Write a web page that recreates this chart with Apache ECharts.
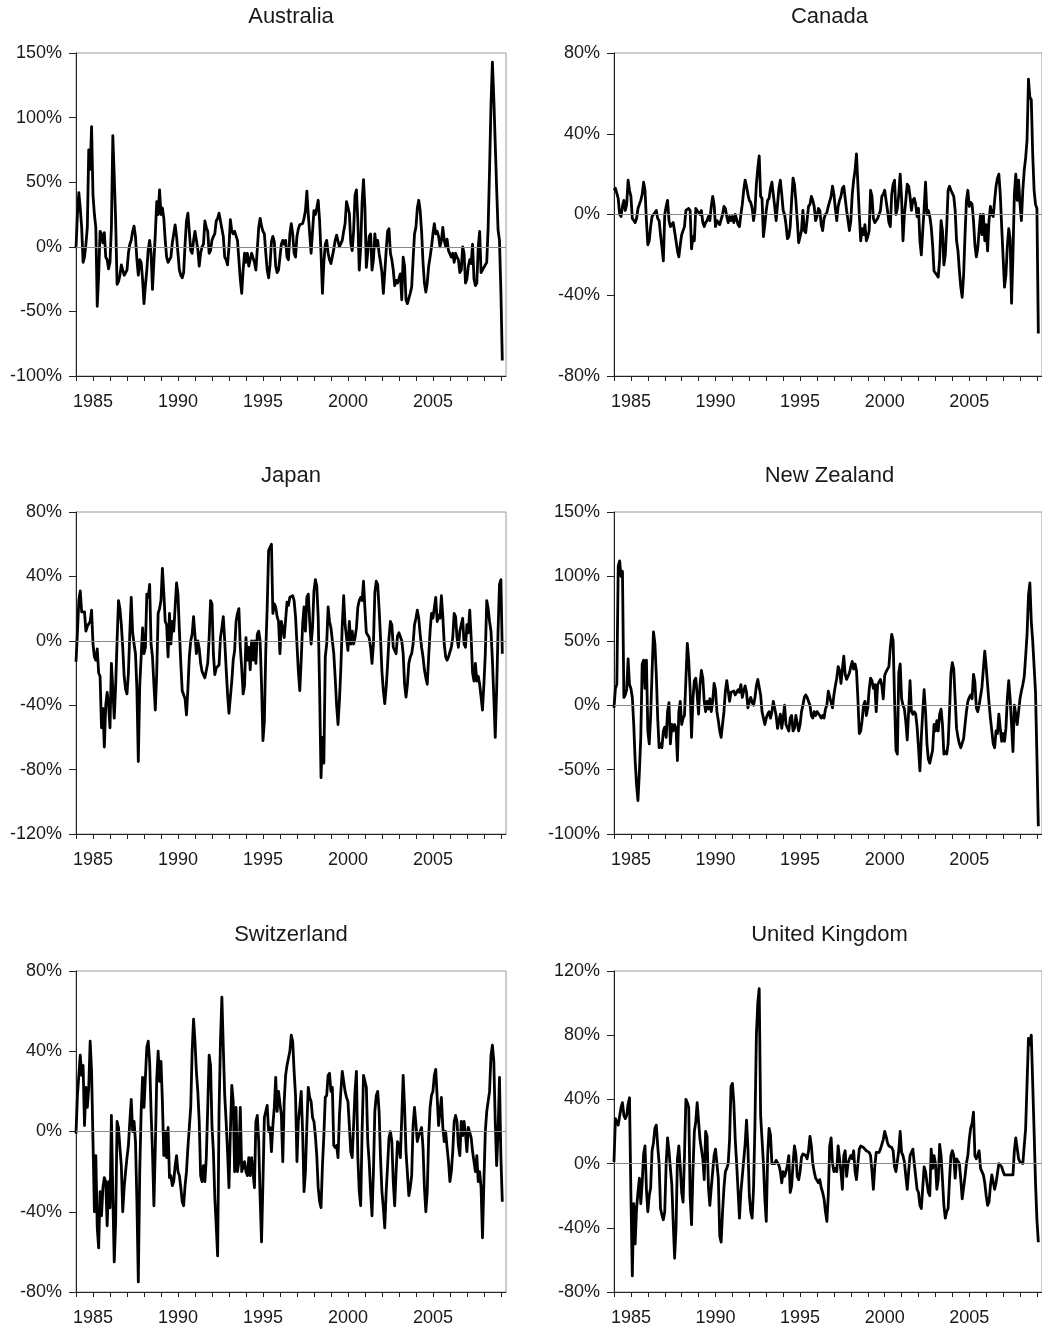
<!DOCTYPE html>
<html>
<head>
<meta charset="utf-8">
<script src="https://cdn.jsdelivr.net/npm/echarts@6.0.0/dist/echarts.min.js"></script>
<style>
  html, body { margin: 0; padding: 0; background: #fff; }
  #chart { width: 1042px; height: 1330px; }
</style>
</head>
<body>
<div id="chart"></div>
<script>
// ---------------- DATA (monthly, starting January 1984) ----------------
const startYear = 1984;
const countries = ['Australia', 'Canada', 'Japan', 'New Zealand', 'Switzerland', 'United Kingdom'];

const australia = [
  -1, 25, 42, 30, 15, -12, -8, 2, 15, 75, 60, 93,
  40, 25, 15, -46, -22, 12, 10, 3, 11, -8, -10, -17,
  -12, 15, 86, 55, 20, -29, -27, -22, -14, -18, -22, -22,
  -18, -5, 2, 5, 12, 16, 8, -10, -22, -10, -12, -25,
  -44, -30, -18, -2, 5, -5, -33, -32, 10, 35, 25, 44,
  25, 30, 22, 5, -8, -12, -13, -8, 3, 10, 17, 8,
  -5, -18, -22, -24, -20, 2, 20, 26, 12, -3, -5, 5,
  12, 5, -2, -15, -5, 0, 2, 20, 15, 12, -5, -3,
  5, 8, 10, 20, 22, 26, 20, 14, 8, -8, -10, -14,
  0, 21, 12, 10, 12, 12, 5, -10, -25, -36, -18, -5,
  -12, -5, -15, -10, -5, -4, -12, -18, -2, 15, 22, 16,
  12, 10, -5, -18, -24, -14, 4, 8, 4, -15, -20, -18,
  -8, 2, 5, 2, 5, -8, -10, 10, 18, 10, -5, -8,
  8, 14, 17, 18, 18, 22, 28, 43, 25, 10, -5, 12,
  28, 25, 30, 36, 20, -5, -36, -12, 2, 5, -5, -10,
  -13, -12, -2, 5, 9, 8, 0, -1, 5, 12, 18, 35,
  36, 26, 3, -3, 12, 40, 44, 20, -18, 0, 35, 52,
  30, -16, -17, 8, 10, -18, -10, 10, 0, 5, -5, -12,
  -20, -36, -20, -3, 12, 14, -5, -10, -18, -30, -26, -28,
  -28, -21, -41, -8, -15, -41, -44, -40, -36, -31, -10, 10,
  15, 30, 36, 28, 12, -12, -28, -35, -28, -15, -8, 0,
  10, 18, 10, 12, 8, 0, 5, 15, 5, 0, 6, -3,
  -2, -8, -5, -12, -5, -8, -10, -20, -18, 0, -5, -28,
  -25, -15, -10, -13, 2, -25, -30, -28, 0, 12, -20, -18,
  -17, -14, -12, 15, 60, 110, 143, 115, 80, 45, 13, 5,
  -35, -88
];

const canada = [
  12, 13, 13, 8, 0, -1, 4, 7, 2, 5, 17, 12,
  9, -2, -3, -4, -2, 3, 5, 7, 10, 16, 12, -3,
  -15, -13, -6, -1, 0, 1, 2, -2, -3, -10, -16, -23,
  0, 4, 7, -3, -6, -6, -4, -4, -13, -18, -21, -15,
  -10, -8, -6, 2, 2, 3, 2, -17, -11, -13, 3, 3,
  1, 0, 2, -4, -6, -4, -3, -1, -3, 4, 9, 5,
  -6, -3, -4, -5, -5, 0, 4, 3, -1, -4, -1, -3,
  -1, -4, 0, 0, -5, -6, 0, 5, 12, 17, 14, 10,
  7, 6, 3, -3, 2, 15, 23, 29, 9, 8, -11, -5,
  2, 7, 8, 13, 16, 10, 4, -3, 5, 13, 17, 10,
  2, 0, -5, -12, -11, -6, 7, 18, 15, 7, -3, -14,
  -11, -8, 2, -8, -9, -9, 4, 5, 9, 7, 4, -3,
  -1, 3, 2, -5, -8, -2, 0, 1, 4, 4, 9, 14,
  10, 3, -3, 4, 7, 9, 13, 14, 8, 2, -3, -8,
  -3, 10, 17, 22, 30, 15, 0, -13, -7, -10, -5, -13,
  -11, -8, 12, 9, -2, -4, -3, -2, 0, 2, 9, 10,
  12, 7, 2, -4, -6, 10, 15, 17, 0, 3, 10, 20,
  8, -13, 0, 7, 15, 14, 9, 2, 7, 8, 5, -1,
  3, -13, -20, -8, 3, 16, 0, 2, -1, -6, -15, -28,
  -28, -30, -31, -22, -3, -8, -25, -20, -6, 12, 14, 12,
  12, 9, 2, -13, -18, -28, -36, -41, -30, -10, 7, 12,
  4, 6, 5, -3, -15, -21, -17, -8, 0, -10, 0, -13,
  -5, -18, -3, 4, 0, -1, 7, 14, 18, 20, 10, -6,
  -21, -36, -30, -16, -7, -12, -44, -20, 10, 20, 7, 17,
  5, -3, 12, 22, 28, 37, 67, 58, 57, 30, 12, 5,
  3, -59
];

const japan = [
  -13, 5, 25, 31, 18, 17, 18, 6, 9, 9, 12, 19,
  -2, -10, -12, -5, -20, -22, -54, -42, -66, -40, -32, -40,
  -54, -14, -30, -48, -28, 0, 25, 20, 10, -4, -22, -30,
  -33, -20, 5, 27, 5, -2, -8, -30, -75, -28, -10, 8,
  -8, -4, 29, 27, 35, -2, -10, -27, -43, -20, 17, 20,
  25, 45, 30, 12, 10, -10, 17, -2, 12, 6, 21, 36,
  29, 6, -14, -31, -30, -36, -46, -30, -10, 0, 4, 15,
  15, -8, 0, -5, -14, -19, -21, -23, -22, -14, 2, 25,
  23, -8, -21, -17, -18, -15, 2, 8, 15, 0, -17, -33,
  -45, -35, -25, -12, -6, 12, 17, 20, -4, -17, -33, -28,
  2, -12, -4, -18, 0, -12, 0, -14, 4, 6, 0, -27,
  -62, -50, -6, 21, 56, 58, 60, 17, 23, 21, 15, 12,
  -8, 12, 8, 2, 3, 24, 22, 27, 27, 28, 25, 15,
  -2, -19, -31, -12, 10, 21, 6, 27, 29, 12, -2, 8,
  31, 38, 34, 15, -30, -85, -60, -76, -10, -2, 21, 12,
  8, 8, -8, -23, -40, -52, -37, -17, 10, 28, 10, 2,
  -6, 12, -2, 6, -2, 2, 8, 21, 25, 27, 25, 37,
  20, 5, 4, 2, -4, -14, -2, 30, 37, 35, 20, 2,
  -19, -31, -39, -29, -15, 2, 12, 10, -4, -4, -8, 3,
  5, 4, 0, -8, -27, -35, -27, -14, -10, -8, -2, 10,
  14, 19, 14, 4, -4, -10, -18, -23, -27, -10, 6, 17,
  14, 14, 27, 12, 16, 14, 28, 15, -2, -10, -12, -10,
  -10, -4, 2, 17, 15, 2, -4, 6, 10, 14, -2, -4,
  10, 5, 19, 2, -20, -25, -14, -25, -22, -27, -35, -43,
  -27, -8, 25, 20, 12, 6, -12, -35, -60, -30, 6, 35,
  38, -8
];

const newZealand = [
  -2, 13, 16, 108, 112, 100, 104, 6, 8, 12, 36, 16,
  13, 6, -15, -43, -62, -74, -52, -25, 32, 35, 13, 35,
  -20, -30, -8, 25, 57, 48, 24, -10, -33, -30, -33, -20,
  -17, -25, -5, 2, -30, -15, -20, -15, -18, -43, -5, 3,
  -15, -10, -8, 20, 48, 35, 12, -25, 5, 19, 21, 8,
  -7, 16, 27, 21, 3, -5, 3, -3, 5, -5, 3, 17,
  12, -5, -12, -20, -25, -15, -5, 11, 19, 11, 3, 10,
  11, 11, 8, 9, 12, 10, 16, 6, 11, 15, 10, -2,
  3, 6, 2, 0, 6, 15, 20, 14, 8, -5, -10, -15,
  -10, -7, -5, -10, -5, 3, 3, -8, -18, -12, -7, -18,
  -10, 0, -15, -15, -20, -10, -8, -20, -18, -8, -7, -20,
  -15, -5, 0, 6, 8, 6, 5, 0, -8, -10, -5, -8,
  -5, -5, -8, -10, -8, -10, -3, 0, 11, 11, 2, -2,
  8, 15, 21, 30, 27, 17, 28, 38, 24, 20, 21, 25,
  30, 34, 28, 32, 27, 5, -22, -20, -12, 0, 3, -8,
  -2, 12, 21, 19, 13, 16, -5, 16, 16, 20, 15, 5,
  23, 26, 28, 30, 45, 55, 50, 5, -35, -38, 25, 32,
  5, 0, -3, -13, -27, -5, 19, -5, -7, -5, -7, -17,
  -33, -51, -25, -5, 12, -5, -30, -42, -45, -45, -35, -15,
  -20, -12, -20, -7, -3, -15, -38, -36, -38, -30, -5, 25,
  33, 28, 5, -18, -25, -30, -33, -33, -26, -15, -5, 3,
  6, 8, 5, 24, 18, -2, -5, 0, 7, 14, 28, 42,
  30, 16, 2, -10, -20, -30, -33, -20, -22, -7, -18, -28,
  -22, -28, -18, 5, 19, 5, -15, -36, 0, -7, -15, -5,
  5, 11, 16, 22, 38, 55, 85, 95, 65, 50, 30, 10,
  -40, -94
];

const switzerland = [
  -1, 18, 28, 38, 28, 33, 3, 22, 12, 22, 45, 30,
  -5, -40, -12, -48, -58, -30, -42, -28, -23, -25, -47, -25,
  -38, 8, -32, -65, -45, 5, 2, -8, -17, -40, -28, -20,
  -13, -7, 5, 16, 0, 5, -5, -35, -75, -20, 10, 27,
  12, 27, 42, 45, 35, 10, -10, -37, -8, 26, 40, 25,
  35, 15, -12, 0, -13, 2, -23, -22, -27, -25, -17, -12,
  -20, -22, -28, -35, -37, -27, -20, -8, -8, 12, 40, 56,
  45, 30, 20, 5, -22, -25, -17, -25, -13, 12, 38, 33,
  3, -10, -33, -47, -62, 10, 45, 67, 42, 18, 5, -10,
  -28, 0, 23, 15, -20, 12, -20, -15, 12, -20, -20, -15,
  -20, -22, -13, -22, -13, -13, -28, 5, 8, -5, -33, -55,
  -25, 7, 10, 13, 0, 2, -10, 3, 12, 27, 10, 20,
  20, 8, -15, 15, 28, 33, 33, 40, 48, 45, 30, 18,
  -15, 5, 12, 20, 0, -30, -20, 3, 22, 17, 15, 7,
  5, -2, -12, -28, -35, -38, -17, -2, 17, 18, 28, 29,
  20, 22, -7, -8, -7, -13, 8, 20, 30, 25, 20, 17,
  15, 3, -10, -13, 3, 20, 30, -13, -30, -37, 0, 28,
  28, 22, -5, -15, -30, -42, -20, 10, 18, 20, 10, -13,
  -30, -38, -48, -30, -17, -3, 0, -5, -25, -37, -20, -5,
  -7, -13, 7, 28, 12, -10, -10, -32, -28, -22, 3, 12,
  12, -5, -2, 0, 2, -8, -28, -40, -30, -3, 12, 18,
  20, 28, 31, 17, 3, 3, 17, 2, -5, 0, -8, -15,
  -25, -20, -10, 5, 8, 5, -7, -12, 5, -2, 5, -1,
  -10, 2, 2, -3, -10, -15, -20, -12, -25, -20, -28, -53,
  -25, 0, 10, 10, 20, 38, 43, 35, 5, -17, 0, 27,
  -13, -35
];

const unitedKingdom = [
  1, 28, 27, 24, 25, 35, 38, 30, 28, 30, 37, 41,
  -20, -70, -25, -50, -28, -18, -9, -25, -12, 6, 11, -16,
  -30, -20, -15, 8, 13, 22, 24, 11, 0, -28, -32, -35,
  -30, 0, 16, 8, -3, -13, -37, -59, -40, 3, 11, -2,
  -18, -24, 5, 40, 38, 35, -20, -38, -5, 20, 26, 38,
  38, 15, 16, 3, -10, 20, 17, -15, -26, -15, -5, 5,
  9, 0, -9, -45, -49, -30, -15, -5, -3, 0, 15, 48,
  50, 38, 15, 0, -17, -34, -18, -18, 2, 12, 27, 10,
  -20, -30, -34, -15, 25, 80, 100, 109, 30, 15, 0, -22,
  -36, 5, 22, 18, 0, 0, 0, 2, 1, -1, -5, -12,
  -5, -8, -5, -1, 5, -18, -14, 0, 11, 6, -8, -10,
  -5, 4, 6, 6, 5, 3, 8, 17, 11, 0, -5, -9,
  -8, -12, -10, -15, -18, -22, -30, -36, -20, 11, 16, 0,
  -5, -3, -5, 11, 12, -5, -16, 5, 8, -8, 0, 3,
  5, 3, 8, -5, -10, 0, 9, 11, 11, 10, 10, 8,
  8, 7, 5, -5, -16, -2, 7, 6, 7, 9, 10, 15,
  20, 17, 13, 11, 11, 10, 8, -2, -5, -5, 8, 20,
  7, 5, 1, -8, -16, -5, 5, 7, 9, 0, -8, -16,
  -18, -26, -28, -15, -2, -5, -12, -18, -20, 9, -3, 5,
  0, -16, -10, 12, 5, -10, -26, -34, -30, -28, -10, 5,
  8, 5, -9, 3, 3, 0, -10, -22, -22, -8, 0, 5,
  15, 22, 25, 32, 5, 3, 5, 8, -3, -5, -7, -12,
  -20, -26, -24, -14, -7, -7, -16, -12, -6, 0, 1, -2,
  -5, -7, -7, -7, -7, -7, -7, -7, 8, 16, 15, 3,
  1, 0, 0, -1, 22, 50, 78, 74, 80, 50, 20, -12,
  -35, -49
];

const seriesValues = [australia, canada, japan, newZealand, switzerland, unitedKingdom];

// axis settings per panel
const yMin  = [-100, -80, -120, -100, -80, -80];
const yMax  = [150, 80, 80, 150, 80, 120];
const yStep = [50, 40, 40, 50, 40, 40];
const xLabelYears = [1985, 1990, 1995, 2000, 2005];
const xTickYears = [1984, 1985, 1986, 1987, 1988, 1989, 1990, 1991, 1992, 1993, 1994, 1995, 1996,
                    1997, 1998, 1999, 2000, 2001, 2002, 2003, 2004, 2005, 2006, 2007, 2008, 2009];

// ---------------- LAYOUT ----------------
const FONT = "'Liberation Sans', Arial, sans-serif";
const panels = [
  { left: 76,  top: 53,  width: 430, height: 323 },
  { left: 614, top: 53,  width: 431, height: 323 },
  { left: 76,  top: 512, width: 430, height: 322 },
  { left: 614, top: 512, width: 431, height: 322 },
  { left: 76,  top: 971, width: 430, height: 321 },
  { left: 614, top: 971, width: 431, height: 321 }
];

const grids = [], xAxes = [], yAxes = [], series = [], titles = [];
panels.forEach((p, k) => {
  grids.push({ left: p.left, top: p.top, width: p.width, height: p.height,
               show: true, borderColor: '#9a9a9a', borderWidth: 1, backgroundColor: 'transparent' });
  titles.push({ text: countries[k], left: p.left + p.width / 2, top: p.top - 47, textAlign: 'center',
                padding: 0,
                textStyle: { fontFamily: FONT, fontSize: 22, fontWeight: 'normal', color: '#1a1a1a' } });
  xAxes.push({
    gridIndex: k, type: 'value', min: 1984, max: 2009.3,
    axisLine: { show: true, onZero: false, lineStyle: { color: '#222', width: 1 } },
    axisTick: { show: true, length: 5, customValues: xTickYears, lineStyle: { color: '#222' } },
    axisLabel: { customValues: xLabelYears, formatter: v => String(v),
                 fontFamily: FONT, fontSize: 18, color: '#1a1a1a', margin: 17 },
    splitLine: { show: false }
  });
  yAxes.push({
    gridIndex: k, type: 'value', min: yMin[k], max: yMax[k], interval: yStep[k],
    axisLine: { show: true, onZero: false, lineStyle: { color: '#222', width: 1 } },
    axisTick: { show: true, length: 7, lineStyle: { color: '#222' } },
    axisLabel: { formatter: '{value}%', fontFamily: FONT, fontSize: 18, color: '#1a1a1a', margin: 14 },
    splitLine: { show: false }
  });
  series.push({
    type: 'line', xAxisIndex: k, yAxisIndex: k, data: [], z: 1, silent: true,
    markLine: { silent: true, symbol: 'none', animation: false, label: { show: false },
                lineStyle: { color: '#8a8a8a', width: 1, type: 'solid' }, data: [{ yAxis: 0 }] }
  });
  series.push({
    type: 'line', xAxisIndex: k, yAxisIndex: k, z: 3,
    data: seriesValues[k].map((v, i) => [startYear + i / 12, v]),
    symbol: 'none', showSymbol: false,
    lineStyle: { color: '#000', width: 2.8, join: 'round' }
  });
});

const chart = echarts.init(document.getElementById('chart'), null, { renderer: 'canvas' });
chart.setOption({
  animation: false,
  backgroundColor: '#ffffff',
  title: titles,
  grid: grids,
  xAxis: xAxes,
  yAxis: yAxes,
  series: series
});
</script>
</body>
</html>
